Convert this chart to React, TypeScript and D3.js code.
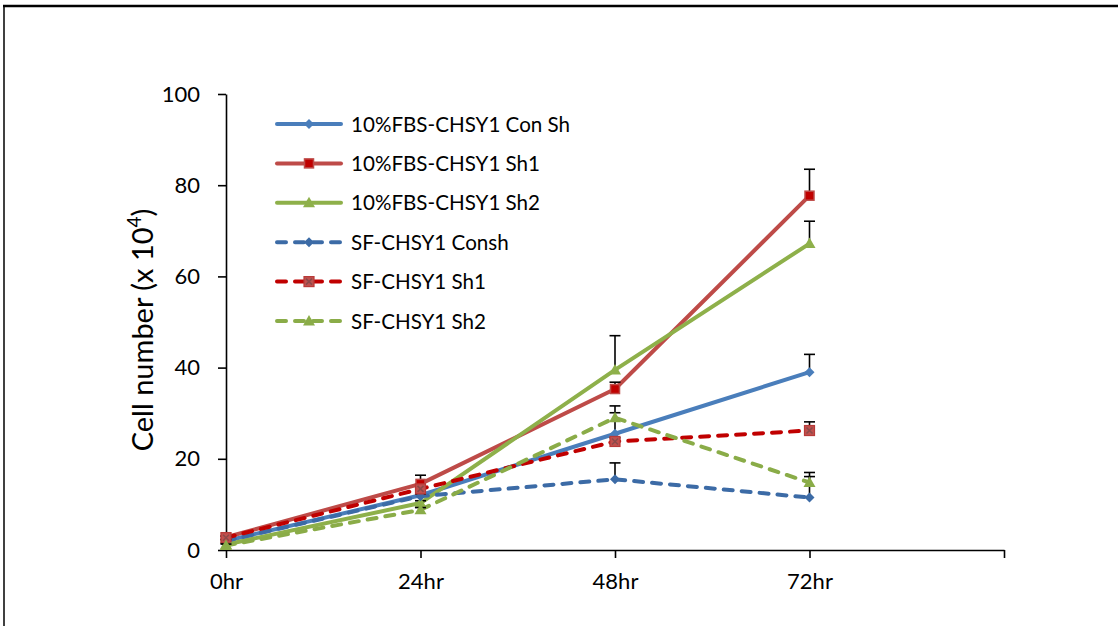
import React, { useEffect, useRef } from 'react';
import { select, scaleLinear, line, axisBottom, axisLeft } from 'd3';

// time points (hours) and their labels
const hours = [0, 24, 48, 72];
const hourLabels = ['0hr', '24hr', '48hr', '72hr'];
const yTicks = [0, 20, 40, 60, 80, 100];

// cell number (x 10^4)
const fbsConSh = [2.0, 12.0, 25.5, 39.0];
const fbsConShErr = [0.3, 0.6, 4.6, 3.9];
const fbsSh1 = [2.8, 14.5, 35.3, 77.7];
const fbsSh1Err = [0.3, 1.9, 1.5, 5.8];
const fbsSh2 = [1.2, 10.3, 39.5, 67.2];
const fbsSh2Err = [0.3, 0.5, 7.5, 4.9];
const sfConsh = [2.0, 11.8, 15.5, 11.5];
const sfConshErr = [0.3, 0.5, 3.6, 4.6];
const sfSh1 = [2.7, 13.4, 23.8, 26.2];
const sfSh1Err = [0.3, 0.5, 0.8, 1.9];
const sfSh2 = [1.0, 8.8, 29.0, 14.8];
const sfSh2Err = [0.3, 0.5, 2.6, 2.2];

const seriesNames = [
  '10%FBS-CHSY1 Con Sh',
  '10%FBS-CHSY1 Sh1',
  '10%FBS-CHSY1 Sh2',
  'SF-CHSY1 Consh',
  'SF-CHSY1 Sh1',
  'SF-CHSY1 Sh2',
];

const series = [
  { name: seriesNames[0], values: fbsConSh, err: fbsConShErr, color: '#4A7EBB', dash: null, marker: 'diamond' },
  { name: seriesNames[1], values: fbsSh1, err: fbsSh1Err, color: '#BE4B48', dash: null, marker: 'square' },
  { name: seriesNames[2], values: fbsSh2, err: fbsSh2Err, color: '#8EB04A', dash: null, marker: 'triangle' },
  { name: seriesNames[3], values: sfConsh, err: sfConshErr, color: '#3C6BA6', dash: '9,9', marker: 'diamond' },
  { name: seriesNames[4], values: sfSh1, err: sfSh1Err, color: '#C00000', dash: '9,9', marker: 'xsquare' },
  { name: seriesNames[5], values: sfSh2, err: sfSh2Err, color: '#8AAC48', dash: '9,9', marker: 'triangle' },
];

const FONT = 'Lato, "Open Sans", sans-serif';

function drawMarker(g: any, type: string, cx: number, cy: number, color: string) {
  if (type === 'diamond') {
    g.append('path')
      .attr('d', `M${cx},${cy - 5}L${cx + 5},${cy}L${cx},${cy + 5}L${cx - 5},${cy}Z`)
      .attr('fill', color);
  } else if (type === 'square') {
    g.append('rect')
      .attr('x', cx - 4.5).attr('y', cy - 4.5)
      .attr('width', 9).attr('height', 9)
      .attr('fill', '#C00000')
      .attr('stroke', color).attr('stroke-width', 1.5);
  } else if (type === 'xsquare') {
    g.append('rect')
      .attr('x', cx - 5).attr('y', cy - 5)
      .attr('width', 10).attr('height', 10)
      .attr('fill', '#C0504D')
      .attr('stroke', '#B83A38').attr('stroke-width', 1.2);
    g.append('path')
      .attr('d', `M${cx - 3},${cy - 3}L${cx + 3},${cy + 3}M${cx - 3},${cy + 3}L${cx + 3},${cy - 3}`)
      .attr('stroke', '#8C4A4A').attr('stroke-width', 1.5);
  } else if (type === 'triangle') {
    g.append('path')
      .attr('d', `M${cx},${cy - 6}L${cx + 6},${cy + 4.5}L${cx - 6},${cy + 4.5}Z`)
      .attr('fill', color);
  }
}

function Chart() {
  const ref = useRef<SVGSVGElement>(null);

  useEffect(() => {
    const svg = select(ref.current);
    svg.selectAll('*').remove();

    const x = scaleLinear().domain([0, 96]).range([226, 1004]);
    const y = scaleLinear().domain([0, 100]).range([550, 94]);

    // frame
    svg.append('line').attr('x1', 3).attr('x2', 1118).attr('y1', 6).attr('y2', 6)
      .attr('stroke', '#000').attr('stroke-width', 2.5);
    svg.append('line').attr('x1', 4).attr('x2', 4).attr('y1', 6).attr('y2', 626)
      .attr('stroke', '#000').attr('stroke-width', 1.5);

    // axes
    const yAxis = svg.append('g')
      .attr('transform', `translate(${x(0)},0)`)
      .call(axisLeft(y).tickValues(yTicks).tickSize(8).tickSizeOuter(0).tickPadding(18));
    const xAxis = svg.append('g')
      .attr('transform', `translate(0,${y(0)})`)
      .call(axisBottom(x).tickValues([0, 24, 48, 72, 96]).tickSize(8).tickSizeOuter(0).tickPadding(15)
        .tickFormat((d: any) => {
          const i = hours.indexOf(+d);
          return i >= 0 ? hourLabels[i] : '';
        }));
    [yAxis, xAxis].forEach((a) => {
      a.selectAll('path, line').attr('stroke', '#000').attr('stroke-width', 1.6);
      a.selectAll('text').attr('fill', '#000').style('font-family', FONT).style('font-size', '22px');
    });

    // y axis title
    const title = svg.append('text')
      .attr('transform', 'translate(153,330) rotate(-90)')
      .attr('text-anchor', 'middle')
      .style('font-family', FONT).style('font-size', '29px').attr('fill', '#000');
    title.append('tspan').text('Cell number (x 10');
    title.append('tspan').attr('dy', -12).style('font-size', '19px').text('4');
    title.append('tspan').attr('dy', 12).text(')');

    const lineGen = line<number>()
      .x((d, i) => x(hours[i]))
      .y((d) => y(d));

    series.forEach((s) => {
      const g = svg.append('g');
      g.append('path')
        .attr('d', lineGen(s.values))
        .attr('fill', 'none')
        .attr('stroke', s.color)
        .attr('stroke-width', 4)
        .attr('stroke-linejoin', 'round')
        .attr('stroke-linecap', 'round')
        .attr('stroke-dasharray', s.dash);

      // error bars (plus direction)
      s.values.forEach((v, i) => {
        const px = x(hours[i]);
        const top = y(v + s.err[i]);
        g.append('line').attr('x1', px).attr('x2', px).attr('y1', y(v)).attr('y2', top)
          .attr('stroke', '#000').attr('stroke-width', 1.6);
        g.append('line').attr('x1', px - 5.5).attr('x2', px + 5.5).attr('y1', top).attr('y2', top)
          .attr('stroke', '#000').attr('stroke-width', 1.6);
      });

      s.values.forEach((v, i) => drawMarker(g, s.marker, x(hours[i]), y(v), s.color));
    });

    // legend
    const lg = svg.append('g');
    series.forEach((s, i) => {
      const ly = 124 + i * 39.4;
      lg.append('line')
        .attr('x1', 277).attr('x2', 341).attr('y1', ly).attr('y2', ly)
        .attr('stroke', s.color).attr('stroke-width', 4)
        .attr('stroke-linecap', 'round')
        .attr('stroke-dasharray', s.dash);
      drawMarker(lg, s.marker, 309, ly, s.color);
      lg.append('text')
        .attr('x', 351).attr('y', ly + 7.5)
        .style('font-family', FONT).style('font-size', '20.6px').attr('fill', '#000')
        .text(s.name);
    });
  }, []);

  return <svg ref={ref} width={1118} height={626} style={{ position: 'absolute', left: 0, top: 0, background: '#fff' }} />;
}

export default function App() {
  return (
    <div>
      <Chart />
    </div>
  );
}
